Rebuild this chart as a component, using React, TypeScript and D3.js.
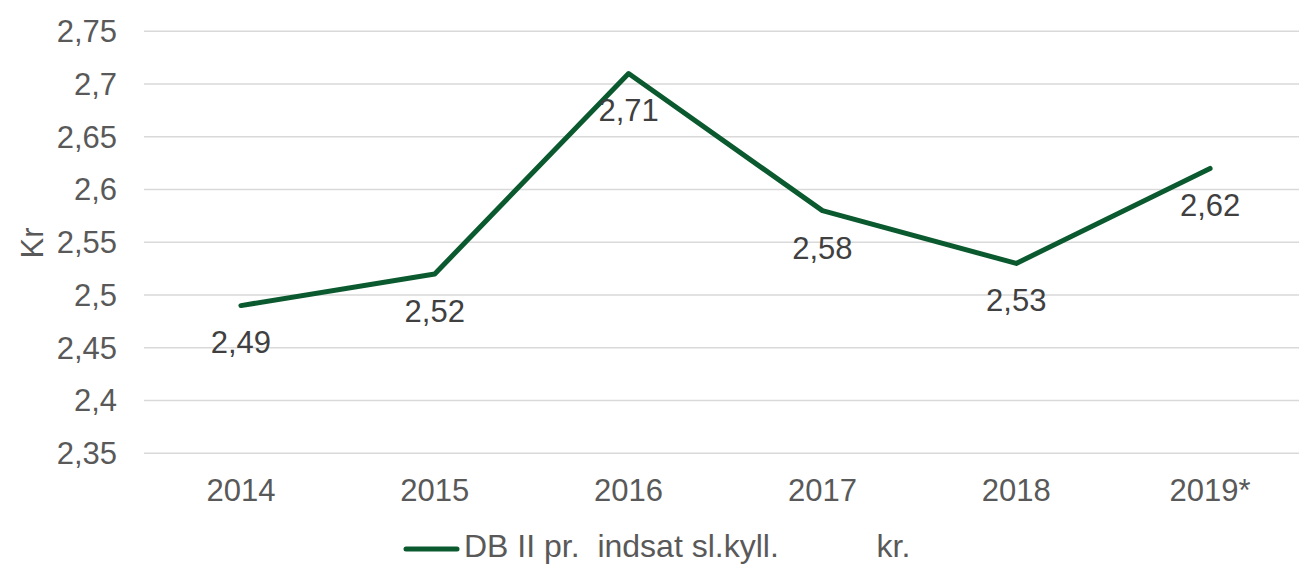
import React, { useEffect, useRef } from 'react';
import * as d3 from 'd3';

const years = ['2014', '2015', '2016', '2017', '2018', '2019*'];
const values = [2.49, 2.52, 2.71, 2.58, 2.53, 2.62];
const yTicks = [2.35, 2.4, 2.45, 2.5, 2.55, 2.6, 2.65, 2.7, 2.75];
const seriesName = 'DB II pr.  indsat sl.kyll.           kr.';

export default function App() {
  const ref = useRef<SVGSVGElement | null>(null);

  useEffect(() => {
    const svgEl = ref.current;
    if (!svgEl) return;
    const svg = d3.select(svgEl);
    svg.selectAll('*').remove();

    const width = 1299;
    const height = 564;
    const font = '"Liberation Sans", Arial, sans-serif';
    const textColor = '#595959';

    const x = d3.scaleBand<string>().domain(years).range([144, 1307]);
    const y = d3.scaleLinear().domain([2.35, 2.75]).range([453.3, 31.3]);
    const cx = (d: string) => (x(d) || 0) + x.bandwidth() / 2;

    // gridlines
    svg.append('g')
      .selectAll('line')
      .data(yTicks)
      .join('line')
      .attr('x1', 144)
      .attr('x2', width)
      .attr('y1', d => y(d))
      .attr('y2', d => y(d))
      .attr('stroke', '#d9d9d9')
      .attr('stroke-width', 1.5);

    const fmt = (v: number) => String(+v.toFixed(2)).replace('.', ',');

    // y tick labels
    svg.append('g')
      .selectAll('text')
      .data(yTicks)
      .join('text')
      .attr('x', 117)
      .attr('y', d => y(d))
      .attr('dy', '0.35em')
      .attr('text-anchor', 'end')
      .attr('font-family', font)
      .attr('font-size', 31)
      .attr('fill', textColor)
      .text(d => fmt(d));

    // x labels
    svg.append('g')
      .selectAll('text')
      .data(years)
      .join('text')
      .attr('x', d => cx(d))
      .attr('y', 501)
      .attr('text-anchor', 'middle')
      .attr('font-family', font)
      .attr('font-size', 31)
      .attr('fill', textColor)
      .text(d => d);

    // axis title
    svg.append('text')
      .attr('transform', 'translate(43,243) rotate(-90)')
      .attr('text-anchor', 'middle')
      .attr('font-family', font)
      .attr('font-size', 31)
      .attr('fill', textColor)
      .text('Kr');

    const pts = years.map((yr, i) => ({ yr, v: values[i] }));
    const line = d3.line<{ yr: string; v: number }>()
      .x(d => cx(d.yr))
      .y(d => y(d.v));

    svg.append('path')
      .datum(pts)
      .attr('fill', 'none')
      .attr('stroke', '#0b5a2f')
      .attr('stroke-width', 5)
      .attr('stroke-linejoin', 'round')
      .attr('stroke-linecap', 'round')
      .attr('d', line);

    // data labels (below points)
    svg.append('g')
      .selectAll('text')
      .data(pts)
      .join('text')
      .attr('x', d => cx(d.yr))
      .attr('y', d => y(d.v) + 37)
      .attr('dy', '0.35em')
      .attr('text-anchor', 'middle')
      .attr('font-family', font)
      .attr('font-size', 31)
      .attr('fill', '#404040')
      .text(d => fmt(d.v));

    // legend
    svg.append('line')
      .attr('x1', 406)
      .attr('x2', 457)
      .attr('y1', 549)
      .attr('y2', 549)
      .attr('stroke', '#0b5a2f')
      .attr('stroke-width', 5)
      .attr('stroke-linecap', 'round');
    svg.append('text')
      .attr('x', 464)
      .attr('y', 557)
      .attr('font-family', font)
      .attr('font-size', 32)
      .attr('fill', textColor)
      .style('white-space', 'pre')
      .text(seriesName);

    svg.attr('width', width).attr('height', height);
  }, []);

  return (
    <svg
      ref={ref}
      width={1299}
      height={564}
      style={{ position: 'fixed', left: 0, top: 0, background: '#fff', display: 'block' }}
    />
  );
}
